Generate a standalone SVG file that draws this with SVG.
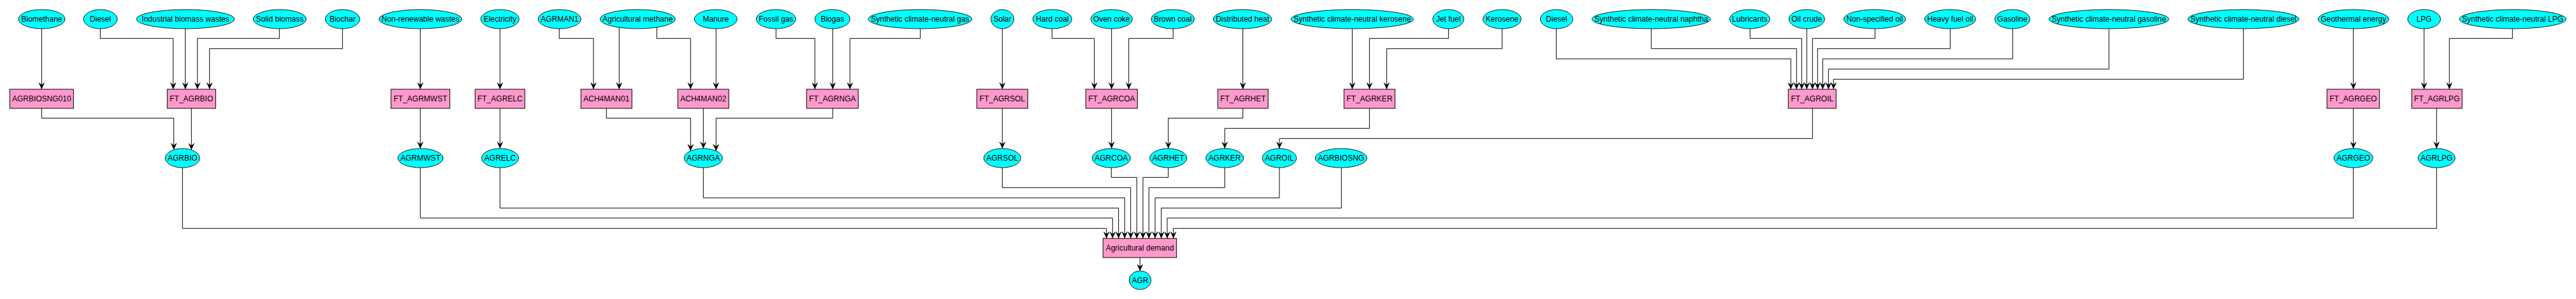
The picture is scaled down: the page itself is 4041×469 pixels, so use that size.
<svg xmlns="http://www.w3.org/2000/svg" width="4041" height="469" viewBox="0 0 4041 469">
<style>
.e{fill:#00ffff;stroke:#1a1a1a;stroke-width:1}
.b{fill:#ff99cc;stroke:#000;stroke-width:1}
text{font-family:"Liberation Sans",Arial,sans-serif;font-size:12px;text-anchor:middle;fill:#000}
.c path{fill:none;stroke:#000;stroke-width:1;marker-end:url(#a)}
</style>
<defs>
<marker id="a" markerWidth="12" markerHeight="12" refX="11" refY="5" orient="auto" markerUnits="userSpaceOnUse" overflow="visible"><path d="M0,0 L11,5 L0,10 L4,5 z" fill="#000"/></marker>
</defs>
<rect width="4041" height="469" fill="#fff"/>
<g class="c" id="connectors">
<path d="M65.3,30 V140"/>
<path d="M157.3,30 V60.3 H271.7 V140"/>
<path d="M290.7,30 V140"/>
<path d="M438.3,30 V60.3 H309.7 V140"/>
<path d="M537.3,30 V76.3 H328.7 V140"/>
<path d="M659.3,30 V140"/>
<path d="M784.3,30 V140"/>
<path d="M877.3,30 V60.3 H931 V140"/>
<path d="M971.3,30 V140"/>
<path d="M1030.3,30 V60.3 H1083.3 V140"/>
<path d="M1123.3,30 V140"/>
<path d="M1217.3,30 V60.3 H1278.3 V140"/>
<path d="M1306.3,30 V140"/>
<path d="M1443.7,30 V60.3 H1333.3 V140"/>
<path d="M1572.3,30 V140"/>
<path d="M1650.3,30 V60.3 H1716.7 V140"/>
<path d="M1743.7,30 V140"/>
<path d="M1840.3,30 V60.3 H1770.7 V140"/>
<path d="M1949.7,30 V140"/>
<path d="M2121.3,30 V140"/>
<path d="M2272.3,30 V60.3 H2148.3 V140"/>
<path d="M2356.3,30 V76.3 H2175.3 V140"/>
<path d="M2441.3,30 V92.3 H2809.3 V140"/>
<path d="M2590.3,30 V76.3 H2818.3 V140"/>
<path d="M2745.3,30 V60.3 H2826.3 V140"/>
<path d="M2834.3,30 V140"/>
<path d="M2941.3,30 V60.3 H2843.3 V140"/>
<path d="M3059.3,30 V76.3 H2851.3 V140"/>
<path d="M3157.3,30 V92.3 H2859.3 V140"/>
<path d="M3308.3,30 V108.3 H2868.3 V140"/>
<path d="M3519.3,30 V124.3 H2876.3 V140"/>
<path d="M3691.7,30 V140"/>
<path d="M3802.7,30 V140"/>
<path d="M3941.3,30 V60.3 H3842.3 V140"/>
<path d="M65.3,155 V185.3 H272.7 V235"/>
<path d="M300.3,155 V235.2"/>
<path d="M659.3,155 V233"/>
<path d="M784.3,155 V233"/>
<path d="M951.3,155 V185.3 H1083.3 V236.8"/>
<path d="M1103.3,155 V233"/>
<path d="M1306.3,155 V185.3 H1123.3 V236.8"/>
<path d="M1572.3,155 V233"/>
<path d="M1743.7,155 V233"/>
<path d="M1949.7,155 V185.3 H1832.7 V233"/>
<path d="M2148.3,155 V201.3 H1921.3 V233"/>
<path d="M2843.3,155 V217.3 H2007 V233"/>
<path d="M3691.7,155 V233"/>
<path d="M3822.3,155 V233"/>
<path d="M286.3,248 V358.3 H1735.7 V374"/>
<path d="M659.3,248 V342 H1745.3 V374"/>
<path d="M784.3,248 V326.3 H1754.7 V374"/>
<path d="M1103.3,248 V310.3 H1764.3 V374"/>
<path d="M1572.3,248 V294.3 H1773.7 V374"/>
<path d="M1743.3,248 V278.3 H1783.3 V374"/>
<path d="M1832.7,248 V278.3 H1793 V374"/>
<path d="M1921.3,248 V294.3 H1802.3 V374"/>
<path d="M2007,248 V310.3 H1812 V374"/>
<path d="M2104.3,248 V326.3 H1821.7 V374"/>
<path d="M3691.7,248 V342 H1831 V374"/>
<path d="M3822.3,248 V358.3 H1840.7 V374"/>
<path d="M1788.3,389 V425"/>
</g>
<g id="n_biomethane"><ellipse class="e" cx="65.5" cy="30" rx="36.5" ry="15"/><text x="65.5" y="34.2">Biomethane</text></g>
<g id="n_diesel1"><ellipse class="e" cx="157.5" cy="30" rx="26.5" ry="15"/><text x="157.5" y="34.2">Diesel</text></g>
<g id="n_indbio"><ellipse class="e" cx="291" cy="30" rx="77" ry="15"/><text x="291" y="34.2">Industrial biomass wastes</text></g>
<g id="n_solidbio"><ellipse class="e" cx="438.8" cy="30" rx="41.5" ry="15"/><text x="438.8" y="34.2">Solid biomass</text></g>
<g id="n_biochar"><ellipse class="e" cx="537.3" cy="30" rx="27" ry="15"/><text x="537.3" y="34.2">Biochar</text></g>
<g id="n_nonren"><ellipse class="e" cx="659.5" cy="30" rx="65" ry="15"/><text x="659.5" y="34.2">Non-renewable wastes</text></g>
<g id="n_elec"><ellipse class="e" cx="784.3" cy="30" rx="30" ry="15"/><text x="784.3" y="34.2">Electricity</text></g>
<g id="n_agrman1"><ellipse class="e" cx="877.8" cy="30" rx="33.5" ry="15"/><text x="877.8" y="34.2">AGRMAN1</text></g>
<g id="n_agmeth"><ellipse class="e" cx="1000.3" cy="30" rx="59" ry="15"/><text x="1000.3" y="34.2">Agricultural methane</text></g>
<g id="n_manure"><ellipse class="e" cx="1122.8" cy="30" rx="33.5" ry="15"/><text x="1122.8" y="34.2">Manure</text></g>
<g id="n_fossilgas"><ellipse class="e" cx="1217.3" cy="30" rx="31" ry="15"/><text x="1217.3" y="34.2">Fossil gas</text></g>
<g id="n_biogas"><ellipse class="e" cx="1305.8" cy="30" rx="27.5" ry="15"/><text x="1305.8" y="34.2">Biogas</text></g>
<g id="n_syngas"><ellipse class="e" cx="1443.3" cy="30" rx="81.3" ry="15"/><text x="1443.3" y="34.2">Synthetic climate-neutral gas</text></g>
<g id="n_solar"><ellipse class="e" cx="1572.5" cy="30" rx="18" ry="15"/><text x="1572.5" y="34.2">Solar</text></g>
<g id="n_hardcoal"><ellipse class="e" cx="1650.8" cy="30" rx="30.5" ry="15"/><text x="1650.8" y="34.2">Hard coal</text></g>
<g id="n_ovencoke"><ellipse class="e" cx="1743.8" cy="30" rx="32.5" ry="15"/><text x="1743.8" y="34.2">Oven coke</text></g>
<g id="n_browncoal"><ellipse class="e" cx="1839.7" cy="30" rx="33.7" ry="15"/><text x="1839.7" y="34.2">Brown coal</text></g>
<g id="n_distheat"><ellipse class="e" cx="1949.2" cy="30" rx="45.8" ry="15"/><text x="1949.2" y="34.2">Distributed heat</text></g>
<g id="n_synker"><ellipse class="e" cx="2121.3" cy="30" rx="96" ry="15"/><text x="2121.3" y="34.2">Synthetic climate-neutral kerosene</text></g>
<g id="n_jetfuel"><ellipse class="e" cx="2272" cy="30" rx="24.3" ry="15"/><text x="2272" y="34.2">Jet fuel</text></g>
<g id="n_kerosene"><ellipse class="e" cx="2356.3" cy="30" rx="30" ry="15"/><text x="2356.3" y="34.2">Kerosene</text></g>
<g id="n_diesel2"><ellipse class="e" cx="2441.8" cy="30" rx="25.5" ry="15"/><text x="2441.8" y="34.2">Diesel</text></g>
<g id="n_synnaph"><ellipse class="e" cx="2590.3" cy="30" rx="93" ry="15"/><text x="2590.3" y="34.2">Synthetic climate-neutral naphtha</text></g>
<g id="n_lubricants"><ellipse class="e" cx="2744.8" cy="30" rx="31.5" ry="15"/><text x="2744.8" y="34.2">Lubricants</text></g>
<g id="n_oilcrude"><ellipse class="e" cx="2834.3" cy="30" rx="28" ry="15"/><text x="2834.3" y="34.2">Oil crude</text></g>
<g id="n_nonspecoil"><ellipse class="e" cx="2940.8" cy="30" rx="48.5" ry="15"/><text x="2940.8" y="34.2">Non-specified oil</text></g>
<g id="n_hfo"><ellipse class="e" cx="3059.3" cy="30" rx="40" ry="15"/><text x="3059.3" y="34.2">Heavy fuel oil</text></g>
<g id="n_gasoline"><ellipse class="e" cx="3156.8" cy="30" rx="27.5" ry="15"/><text x="3156.8" y="34.2">Gasoline</text></g>
<g id="n_syngasoline"><ellipse class="e" cx="3308.2" cy="30" rx="94" ry="15"/><text x="3308.2" y="34.2">Synthetic climate-neutral gasoline</text></g>
<g id="n_syndiesel"><ellipse class="e" cx="3519.3" cy="30" rx="87" ry="15"/><text x="3519.3" y="34.2">Synthetic climate-neutral diesel</text></g>
<g id="n_geo"><ellipse class="e" cx="3691.8" cy="30" rx="55.5" ry="15"/><text x="3691.8" y="34.2">Geothermal energy</text></g>
<g id="n_lpg"><ellipse class="e" cx="3802.7" cy="30" rx="25.7" ry="15"/><text x="3802.7" y="34.2">LPG</text></g>
<g id="n_synlpg"><ellipse class="e" cx="3941.7" cy="30" rx="83.7" ry="15"/><text x="3941.7" y="34.2">Synthetic climate-neutral LPG</text></g>
<g id="p_agrbiosng010"><rect class="b" x="15.3" y="140" width="100" height="30"/><text x="65.3" y="159.2">AGRBIOSNG010</text></g>
<g id="p_ft_agrbio"><rect class="b" x="262.3" y="140" width="76" height="30"/><text x="300.3" y="159.2">FT_AGRBIO</text></g>
<g id="p_ft_agrmwst"><rect class="b" x="613.3" y="140" width="92.4" height="30"/><text x="659.5" y="159.2">FT_AGRMWST</text></g>
<g id="p_ft_agrelc"><rect class="b" x="745.3" y="140" width="78" height="30"/><text x="784.3" y="159.2">FT_AGRELC</text></g>
<g id="p_ach4man01"><rect class="b" x="911.3" y="140" width="80" height="30"/><text x="951.3" y="159.2">ACH4MAN01</text></g>
<g id="p_ach4man02"><rect class="b" x="1063.3" y="140" width="80" height="30"/><text x="1103.3" y="159.2">ACH4MAN02</text></g>
<g id="p_ft_agrnga"><rect class="b" x="1265.3" y="140" width="81" height="30"/><text x="1305.8" y="159.2">FT_AGRNGA</text></g>
<g id="p_ft_agrsol"><rect class="b" x="1532.3" y="140" width="80" height="30"/><text x="1572.3" y="159.2">FT_AGRSOL</text></g>
<g id="p_ft_agrcoa"><rect class="b" x="1703.3" y="140" width="81" height="30"/><text x="1743.8" y="159.2">FT_AGRCOA</text></g>
<g id="p_ft_agrhet"><rect class="b" x="1910.3" y="140" width="79" height="30"/><text x="1949.8" y="159.2">FT_AGRHET</text></g>
<g id="p_ft_agrker"><rect class="b" x="2108.3" y="140" width="80" height="30"/><text x="2148.3" y="159.2">FT_AGRKER</text></g>
<g id="p_ft_agroil"><rect class="b" x="2805.3" y="140" width="75" height="30"/><text x="2842.8" y="159.2">FT_AGROIL</text></g>
<g id="p_ft_agrgeo"><rect class="b" x="3650.3" y="140" width="82.4" height="30"/><text x="3691.5" y="159.2">FT_AGRGEO</text></g>
<g id="p_ft_agrlpg"><rect class="b" x="3783.3" y="140" width="79" height="30"/><text x="3822.8" y="159.2">FT_AGRLPG</text></g>
<g id="c_agrbio"><ellipse class="e" cx="286.3" cy="248" rx="27" ry="15"/><text x="286.3" y="252.2">AGRBIO</text></g>
<g id="c_agrmwst"><ellipse class="e" cx="659.6" cy="248" rx="35.5" ry="15"/><text x="659.6" y="252.2">AGRMWST</text></g>
<g id="c_agrelc"><ellipse class="e" cx="784.5" cy="248" rx="29" ry="15"/><text x="784.5" y="252.2">AGRELC</text></g>
<g id="c_agrnga"><ellipse class="e" cx="1103.3" cy="248" rx="30" ry="15"/><text x="1103.3" y="252.2">AGRNGA</text></g>
<g id="c_agrsol"><ellipse class="e" cx="1572.3" cy="248" rx="29" ry="15"/><text x="1572.3" y="252.2">AGRSOL</text></g>
<g id="c_agrcoa"><ellipse class="e" cx="1743.3" cy="248" rx="30" ry="15"/><text x="1743.3" y="252.2">AGRCOA</text></g>
<g id="c_agrhet"><ellipse class="e" cx="1832.7" cy="248" rx="29" ry="15"/><text x="1832.7" y="252.2">AGRHET</text></g>
<g id="c_agrker"><ellipse class="e" cx="1921.2" cy="248" rx="29.5" ry="15"/><text x="1921.2" y="252.2">AGRKER</text></g>
<g id="c_agroil"><ellipse class="e" cx="2007" cy="248" rx="26.7" ry="15"/><text x="2007" y="252.2">AGROIL</text></g>
<g id="c_agrbiosng"><ellipse class="e" cx="2103.8" cy="248" rx="40.5" ry="15"/><text x="2103.8" y="252.2">AGRBIOSNG</text></g>
<g id="c_agrgeo"><ellipse class="e" cx="3691.8" cy="248" rx="30.5" ry="15"/><text x="3691.8" y="252.2">AGRGEO</text></g>
<g id="c_agrlpg"><ellipse class="e" cx="3822.3" cy="248" rx="29" ry="15"/><text x="3822.3" y="252.2">AGRLPG</text></g>
<g id="p_agdemand"><rect class="b" x="1730.3" y="374" width="115.4" height="30"/><text x="1788" y="393.2">Agricultural demand</text></g>
<g id="c_agr"><ellipse class="e" cx="1788.5" cy="439.5" rx="17.2" ry="14.5"/><text x="1788.5" y="443.7">AGR</text></g>
</svg>
